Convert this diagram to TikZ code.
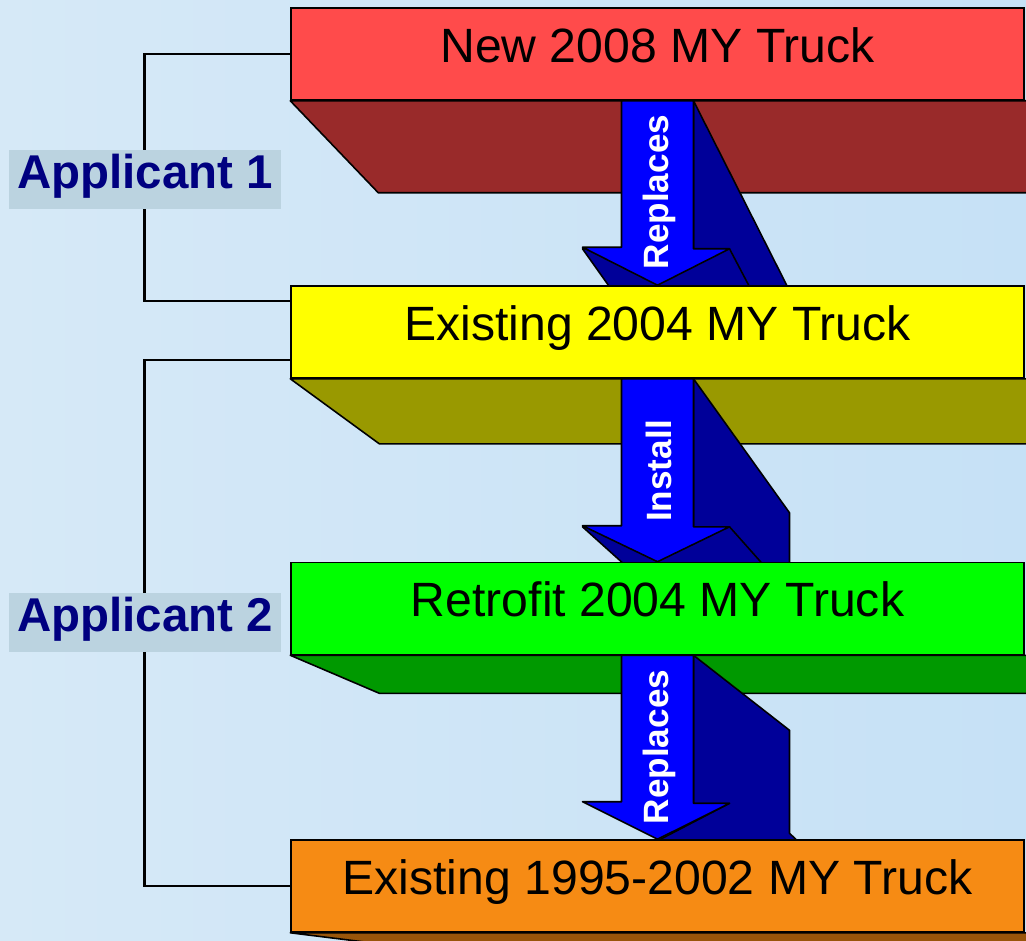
\documentclass[tikz,border=0pt]{standalone}
\usepackage{fontspec}
\setmainfont{Liberation Sans}
\usetikzlibrary{calc}

\definecolor{skyblue}{RGB}{198,225,246}
\definecolor{skylight}{RGB}{214,233,247}
\definecolor{redface}{RGB}{255,75,75}
\definecolor{redside}{RGB}{153,42,42}
\definecolor{yellowface}{RGB}{255,255,0}
\definecolor{yellowside}{RGB}{153,153,0}
\definecolor{greenface}{RGB}{0,255,0}
\definecolor{greenside}{RGB}{0,153,0}
\definecolor{orangeface}{RGB}{246,139,20}
\definecolor{orangeside}{RGB}{153,85,10}
\definecolor{arrowblue}{RGB}{0,0,255}
\definecolor{arrowdark}{RGB}{0,0,153}
\definecolor{labelfill}{RGB}{187,211,224}
\definecolor{labeltext}{RGB}{0,0,128}

\begin{document}
\begin{tikzpicture}[x=0.02cm, y=-0.02cm]
        % Define styles
        \tikzset{
            truck/.style={rectangle, draw, line width=0.9pt, minimum width=14.66cm, minimum height=1.84cm, inner sep=0pt, text height=20pt, text depth=10.4pt, font=\fontsize{27.4}{30}\selectfont},
            side/.style={draw, line width=0.9pt, line join=round},
            applicant/.style={rectangle, fill=labelfill, text=labeltext, minimum width=5.44cm, minimum height=1.18cm, inner sep=0pt, text height=20pt, text depth=9.2pt, font=\bfseries\fontsize{27}{30}\selectfont},
            bracket/.style={line width=1.6pt},
            arrowface/.style={draw, fill=arrowblue, line width=0.9pt, line join=round},
            arrowside/.style={draw, fill=arrowdark, line width=0.9pt, line join=round},
            arrowtext/.style={text=white, rotate=90, inner sep=0pt, font=\bfseries\fontsize{20}{24}\selectfont}
        }

        % Background
        \useasboundingbox (0,0) rectangle (1026,940);
        \clip (0,0) rectangle (1026,940);
        \shade[left color=skylight, right color=skyblue] (0,0) rectangle (1026,940);

        % Brackets
        \node[truck, fill=redface] (truck_new) at (657.5,54) {New 2008 MY Truck};
        \node[truck, fill=yellowface] (truck_2004) at (657.5,332) {Existing 2004 MY Truck};
        \node[truck, fill=greenface] (truck_retrofit) at (657.5,608.5) {Retrofit 2004 MY Truck};
        \node[truck, fill=orangeface] (truck_old) at (657.5,886) {Existing 1995-2002 MY Truck};
        \draw[bracket] (truck_new.west) -- ++(-146,0) |- ([yshift=0.62cm]truck_2004.west);
        \draw[bracket] ([yshift=-0.56cm]truck_2004.west) -- ++(-146,0) |- (truck_old.west);
        \node[applicant] (applicant_1) at (145,179.5) {Applicant 1};
        \node[applicant] (applicant_2) at (145,622) {Applicant 2};

        % New truck and first arrow
        \node[truck, fill=redface] (truck_new) at (657.5,54) {New 2008 MY Truck};
        \draw[side, fill=redside] (truck_new.south west) -- ++(88,92) -- ++(800,0) -- ++(0,-92) -- cycle;
        \draw[arrowside] ([xshift=0.72cm]truck_new.south) -- ++(94,186) -- ++(-178,0) -- ++(-27,-38) -- ++(111,0) -- cycle;
        \draw[arrowface] ([xshift=-0.72cm]truck_new.south) -- ++(72,0) -- ++(0,148) -- ++(36,0) -- (truck_2004.north) -- ++(-75,-38) -- ++(39,0) -- cycle;
        \draw[line width=0.9pt] ([shift={(72,148)}]truck_new.south) -- ++(20,38);
        \node[arrowtext] (replaces_1) at (659,192) {Replaces};

        % Existing 2004 truck and second arrow
        \node[truck, fill=yellowface] (truck_2004) at (657.5,332) {Existing 2004 MY Truck};
        \draw[side, fill=yellowside] (truck_2004.south west) -- ++(89,65) -- ++(800,0) -- ++(0,-65) -- cycle;
        \draw[arrowside] ([xshift=0.72cm]truck_2004.south) -- ++(96,134) -- ++(0,50) -- ++(-167,0) -- ++(-40,-36) -- ++(111,0) -- cycle;
        \draw[arrowface] ([xshift=-0.72cm]truck_2004.south) -- ++(72,0) -- ++(0,148) -- ++(36,0) -- (truck_retrofit.north) -- ++(-75,-36) -- ++(39,0) -- cycle;
        \draw[line width=0.9pt] ([shift={(72,148)}]truck_2004.south) -- ++(32,36);
        \node[arrowtext] (install) at (659,471) {Install};

        % Retrofit truck and third arrow
        \node[truck, fill=greenface] (truck_retrofit) at (657.5,608.5) {Retrofit 2004 MY Truck};
        \draw[side, fill=greenside] (truck_retrofit.south west) -- ++(89,38) -- ++(800,0) -- ++(0,-38) -- cycle;
        \draw[arrowside] ([xshift=0.72cm]truck_retrofit.south) -- ++(96,75) -- ++(0,103) -- ++(8,7.5) -- ++(-140,0) -- ++(72,-37.5) -- ++(-36,0) -- cycle;
        \draw[arrowface] ([xshift=-0.72cm]truck_retrofit.south) -- ++(72,0) -- ++(0,148) -- ++(36,0) -- (truck_old.north) -- ++(-75,-37.5) -- ++(39,0) -- cycle;
        \node[arrowtext] (replaces_2) at (659,747) {Replaces};

        % Existing old truck
        \node[truck, fill=orangeface] (truck_old) at (657.5,886) {Existing 1995-2002 MY Truck};
        \draw[side, fill=orangeside] (truck_old.south west) -- ++(89,11) -- ++(800,0) -- ++(0,-11) -- cycle;
    \end{tikzpicture}
\end{document}
